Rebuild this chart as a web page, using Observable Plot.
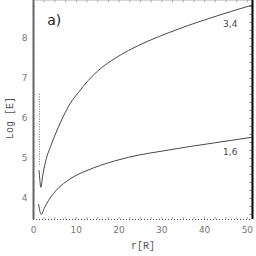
<!DOCTYPE html>
<html><head><meta charset="utf-8">
<script src="https://cdn.jsdelivr.net/npm/d3@7"></script>
<script src="https://cdn.jsdelivr.net/npm/@observablehq/plot@0.6"></script>
<style>
html,body{margin:0;padding:0;background:#fff;}
#wrap{position:relative;width:256px;height:256px;}
#ylab{position:absolute;left:10px;top:118px;transform:translate(-50%,-50%) rotate(-90deg);
  font:10px "Liberation Mono";color:#555;white-space:nowrap;}
</style></head><body>
<div id="wrap"><div id="chart"></div><div id="ylab"></div></div>
<script>
// upper curve "3,4"
const upperR = [1.3, 1.5, 1.7, 2.2, 3, 4, 4.7, 5.8, 7, 8.6, 10.5, 12.8, 15.7, 19, 22.2, 26.9, 31.5, 36, 41, 46, 51];
const upperV = [4.7, 4.45, 4.28, 4.6, 5.0, 5.3, 5.5, 5.78, 6.06, 6.38, 6.65, 6.95, 7.25, 7.5, 7.7, 7.94, 8.14, 8.32, 8.5, 8.67, 8.83];
// lower curve "1,6"
const lowerR = [1.2, 1.5, 1.8, 2.5, 3.5, 4.7, 6, 8, 10, 12.5, 15.7, 19, 22.2, 26.9, 31.5, 36, 41, 46, 51];
const lowerV = [3.85, 3.68, 3.6, 3.75, 3.95, 4.13, 4.28, 4.45, 4.58, 4.7, 4.83, 4.94, 5.03, 5.13, 5.21, 5.29, 5.37, 5.45, 5.53];
const curveLabels = ["3,4", "1,6"];
const labelR = [46, 46];
const labelV = [8.35, 5.15];
const dottedR = [1.4];
const dottedFrom = [4.83];
const dottedTo = [6.65];
const xTicks = [0, 10, 20, 30, 40, 50];
const yTicks = [4, 5, 6, 7, 8];
const xMinor = d3.range(2.5, 51.2, 2.5);
const yMinor = d3.range(3.6, 8.95, 0.2);
const panelLabel = "a)";
const xLabel = "r[R]";
const yLabel = "Log [E]";

const upper = upperR.map((r, i) => ({r, v: upperV[i]}));
const lower = lowerR.map((r, i) => ({r, v: lowerV[i]}));
const labels = curveLabels.map((t, i) => ({t, r: labelR[i], v: labelV[i]}));
const dotted = dottedR.map((r, i) => ({r, a: dottedFrom[i], b: dottedTo[i]}));

const xDom = [0, 51.2], yDom = [3.475, 8.95];
const plot = Plot.plot({
  width: 256, height: 256,
  marginLeft: 33, marginRight: 4, marginTop: 0, marginBottom: 37,
  style: {fontFamily: "DejaVu Sans", fontSize: "9px", color: "#666", background: "#fff"},
  x: {domain: xDom},
  y: {domain: yDom},
  marks: [
    Plot.axisX({ticks: xTicks, tickFormat: "d", tickSize: 0, tickPadding: 7, fill: "#777", fontSize: 9,
      label: xLabel, labelAnchor: "center", labelArrow: "none", labelOffset: 29}),
    Plot.axisY({ticks: yTicks, tickFormat: "d", tickSize: 0, tickPadding: 6, fill: "#777", fontSize: 9, label: null}),
    // minor ticks
    Plot.ruleX(xMinor, {x: d => d, y1: yDom[1], y2: yDom[1] - 0.06, stroke: "#888", strokeWidth: 0.7}),
    Plot.ruleX(xMinor, {x: d => d, y1: yDom[0], y2: yDom[0] + 0.05, stroke: "#888", strokeWidth: 0.7}),
    Plot.ruleY(yMinor, {y: d => d, x1: xDom[1], x2: xDom[1] - 0.6, stroke: "#555", strokeWidth: 0.7}),
    Plot.ruleY(yMinor, {y: d => d, x1: xDom[0], x2: xDom[0] + 0.5, stroke: "#888", strokeWidth: 0.6}),
    // frame
    Plot.ruleY([yDom[0]], {y: d => d, stroke: "#444", strokeWidth: 1, strokeDasharray: "1,2"}),
    Plot.ruleY([yDom[1]], {y: d => d, stroke: "#aaa", strokeWidth: 0.5}),
    Plot.ruleX([xDom[0]], {x: d => d, stroke: "#666", strokeWidth: 2}),
    Plot.ruleX([xDom[1]], {x: d => d, stroke: "#000", strokeWidth: 2}),
    // dotted vertical
    Plot.ruleX(dotted, {x: "r", y1: "a", y2: "b", stroke: "#555", strokeWidth: 0.8, strokeDasharray: "1,1.5"}),
    Plot.line(upper, {x: "r", y: "v", curve: "monotone-x", stroke: "#333", strokeWidth: 0.9}),
    Plot.line(lower, {x: "r", y: "v", curve: "monotone-x", stroke: "#333", strokeWidth: 0.9}),
    Plot.text(labels, {x: "r", y: "v", text: "t", fill: "#444", fontSize: 9, fontFamily: "DejaVu Sans"}),
    Plot.text([panelLabel], {x: 3.2, y: 8.45, text: d => d, fontSize: 14, fill: "#222", textAnchor: "start", fontFamily: "DejaVu Sans"})
  ]
});
plot.querySelectorAll('[aria-label="x-axis label"] text').forEach(t => {
  t.setAttribute("font-family", "Liberation Mono");
  t.setAttribute("font-size", "10");
  t.setAttribute("fill", "#555");
});
document.getElementById("chart").appendChild(plot);
document.getElementById("ylab").textContent = yLabel;
</script>
</body></html>
